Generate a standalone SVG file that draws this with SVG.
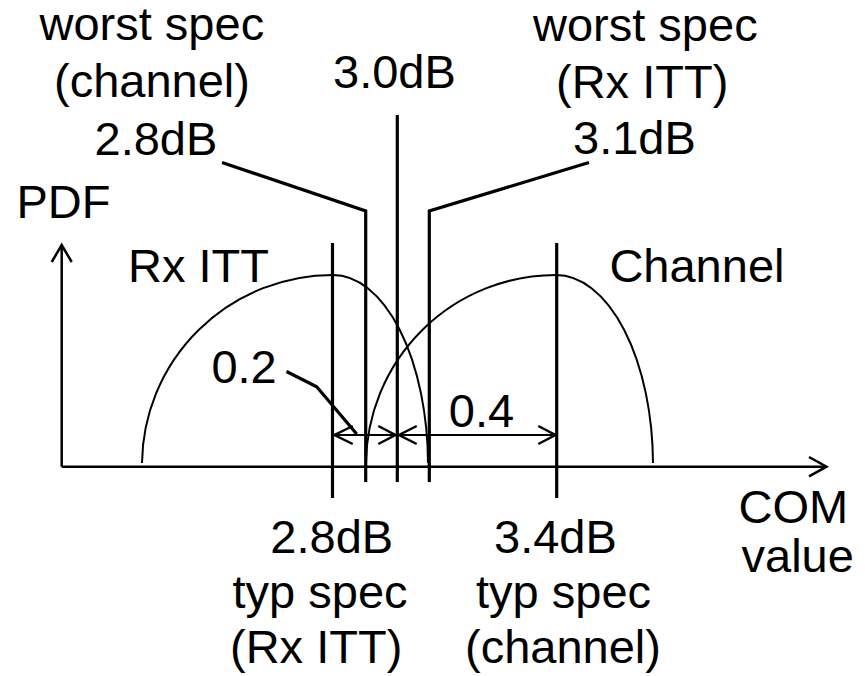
<svg xmlns="http://www.w3.org/2000/svg" width="865" height="676" viewBox="0 0 865 676">
<defs>
<style>
text{font-family:"Liberation Sans",Arial,sans-serif;font-size:47px;fill:#000}
.ax{stroke:#000;stroke-width:2.5;fill:none}
.vl{stroke:#000;stroke-width:3.2;fill:none}
.cv{stroke:#000;stroke-width:2;fill:none}
.dm{stroke:#000;stroke-width:2;fill:none}
.ah{stroke:#000;stroke-width:2.5;fill:none}
</style>
</defs>
<rect width="865" height="676" fill="#fff"/>
<g id="curves">
<path id="rx-itt-curve" class="cv" d="M142,463 A191,190 0 0 1 333,275 A95,190 0 0 1 428,463"/>
<path id="channel-curve" class="cv" d="M366,463 A190,190 0 0 1 556,275 A97,190 0 0 1 653,463"/>
</g>
<g id="connectors">
<line class="ax" x1="61.7" y1="466.7" x2="826" y2="466.7"/>
<polyline class="ah" points="809,457 826.5,466.7 809,476.4"/>
<line class="ax" x1="61.7" y1="466.7" x2="61.7" y2="246"/>
<polyline class="ah" points="51.7,262 61.7,245 71.7,262"/>
<line class="vl" x1="332.5" y1="243" x2="332.5" y2="498"/>
<polyline class="vl" points="222,162.5 365.7,211 365.7,482"/>
<line class="vl" x1="397.3" y1="115" x2="397.3" y2="482"/>
<polyline class="vl" points="589,162.5 429.3,211 429.3,482"/>
<line class="vl" x1="556.7" y1="243" x2="556.7" y2="498"/>
<polyline class="vl" points="286.5,371.5 316.7,386.7 356.7,434"/>
<line class="dm" x1="334" y1="435" x2="555" y2="435"/>
<polyline class="ah" points="352.7,426 334.5,435 352.7,444"/>
<polyline class="ah" points="378.3,426 395.5,435 378.3,444"/>
<polyline class="ah" points="416.7,426 399,435 416.7,444"/>
<polyline class="ah" points="538.3,426 555.5,435 538.3,444"/>
</g>
<g id="label-worst-channel">
<text x="39.5" y="39.5">worst spec</text>
<text x="54" y="97">(channel)</text>
<text x="94.5" y="155">2.8dB</text>
</g>
<g id="label-30">
<text x="333" y="88.3">3.0dB</text>
</g>
<g id="label-worst-rx">
<text x="533" y="40.5">worst spec</text>
<text x="556" y="97.5">(Rx ITT)</text>
<text x="573" y="154">3.1dB</text>
</g>
<g id="label-pdf"><text x="16.4" y="217.7">PDF</text></g>
<g id="label-rx"><text x="128" y="281.7">Rx ITT</text></g>
<g id="label-channel"><text x="609.4" y="281.7">Channel</text></g>
<g id="label-02"><text x="211.4" y="383.3">0.2</text></g>
<g id="label-04"><text x="448.8" y="426.7">0.4</text></g>
<g id="label-typ-rx">
<text x="270.3" y="552.7">2.8dB</text>
<text x="232.5" y="608.3">typ spec</text>
<text x="230" y="663.3">(Rx ITT)</text>
</g>
<g id="label-typ-channel">
<text x="494" y="552.7">3.4dB</text>
<text x="476" y="608.3">typ spec</text>
<text x="465" y="663.3">(channel)</text>
</g>
<g id="label-com">
<text x="738.5" y="523.3">COM</text>
<text x="741.5" y="571.7">value</text>
</g>
</svg>
